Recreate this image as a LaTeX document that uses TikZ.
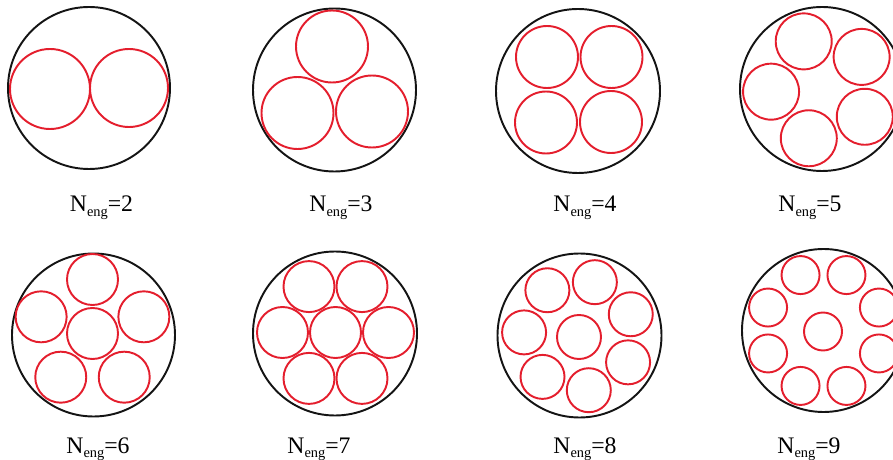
\documentclass[tikz,border=0pt]{standalone}
\usepackage{fontspec}
\setmainfont{Liberation Serif}
\usetikzlibrary{calc}
\definecolor{hullink}{RGB}{20,20,20}
\definecolor{engred}{RGB}{228,30,45}
\newcommand{\neng}[1]{N\raisebox{-0.4ex}{\fontsize{8.2}{9}\selectfont eng}=#1}

\begin{document}
\begin{tikzpicture}[x=0.02cm, y=0.02cm,
  hull/.style={draw=hullink, line width=1.1pt},
  eng/.style={draw=engred, line width=1.1pt},
  caption/.style={font=\fontsize{13.5}{15}\selectfont, anchor=base, inner sep=0pt}]
  \useasboundingbox (0,0) rectangle (893,460);
  % N=2
  \draw[hull] (89,372) circle (81);
  \draw[eng] (50,371) circle (40);
  \draw[eng] (129,372) circle (39);
  \node[caption] (lab2) at (101.5,248) {\neng{2}};
  % N=3
  \draw[hull] (334.5,370) circle (81.5);
  \draw[eng] (332,413.5) circle (36);
  \draw[eng] (297.5,347) circle (36);
  \draw[eng] (372,348.5) circle (36);
  \node[caption] (lab3) at (341,248) {\neng{3}};
  % N=4
  \draw[hull] (578,369) circle (82);
  \foreach \cx/\cy in {547/403,611.5/403,546/337.5,611/338}
    \draw[eng] (\cx,\cy) circle (31);
  \node[caption] (lab4) at (585,248) {\neng{4}};
  % N=5
  \draw[hull] (822,371) circle (82);
  \foreach \k in {0,...,4}
    \draw[eng] ($(822,371)+(39+72*\k:51)$) circle (28);
  \node[caption] (lab5) at (810,248) {\neng{5}};
  % N=6
  \draw[hull] (93.5,125) circle (81.5);
  \draw[eng] (92.5,126.5) circle (25.5);
  \foreach \k in {0,...,4}
    \draw[eng] ($(92.5,126.5)+(90+72*\k:54)$) circle (25.5);
  \node[caption] (lab6) at (98,7) {\neng{6}};
  % N=7
  \draw[hull] (335,126.5) circle (82);
  \draw[eng] (335.5,127.5) circle (25.5);
  \foreach \k in {0,...,5}
    \draw[eng] ($(335.5,127.5)+(60*\k:53)$) circle (25.5);
  \node[caption] (lab7) at (319,7) {\neng{7}};
  % N=8
  \draw[hull] (579.5,124.5) circle (82);
  \draw[eng] (579,123) circle (22);
  \foreach \k in {0,...,6}
    \draw[eng] ($(579.5,124.5)+(22.5+51.43*\k:55.5)$) circle (22);
  \node[caption] (lab8) at (585,7) {\neng{8}};
  % N=9
  \draw[hull] (823.5,129.5) circle (81.5);
  \draw[eng] (823,128.5) circle (19);
  \foreach \k in {0,...,7}
    \draw[eng] ($(823.5,129.5)+(22.5+45*\k:60)$) circle (19);
  \node[caption] (lab9) at (809,7) {\neng{9}};
\end{tikzpicture}
\end{document}
